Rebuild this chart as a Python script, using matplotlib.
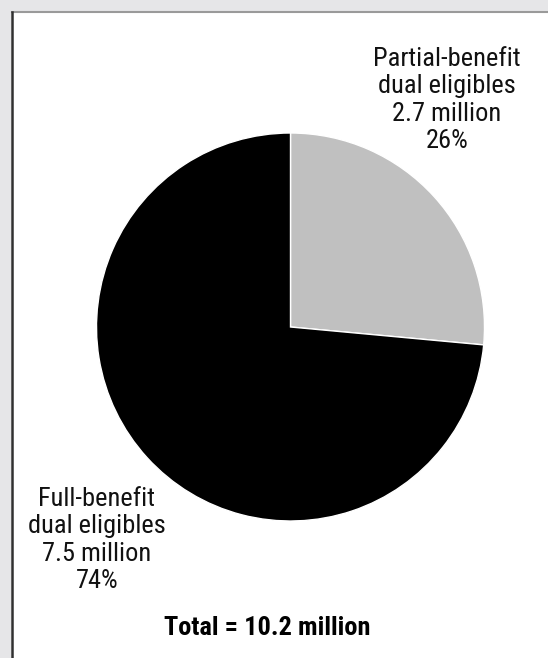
import matplotlib
matplotlib.use("Agg")
import matplotlib.pyplot as plt
from matplotlib.patches import Rectangle

plt.rcParams['font.family'] = ['Roboto Condensed', 'DejaVu Sans']

categories = ["Partial-benefit\ndual eligibles", "Full-benefit\ndual eligibles"]
values_million = [2.7, 7.5]
percents = [26, 74]
total_label = "Total = 10.2 million"
colors = ["#c0c0c0", "#000000"]

W, H = 548, 658
fig = plt.figure(figsize=(W / 100, H / 100), dpi=100)
fig.patch.set_facecolor("#e6e6e8")

# background panel axes
bg = fig.add_axes([0, 0, 1, 1], zorder=-5)
bg.set_xlim(0, W)
bg.set_ylim(H, 0)
bg.axis("off")
bg.add_patch(Rectangle((11, 11), W, H, facecolor="white", edgecolor="none"))
bg.plot([11.5, W], [11.5, 11.5], color="#9a9a9a", lw=1.5)
bg.plot([11.5, 11.5], [11.5, H], color="#303030", lw=1.8)

cx, cy, r = 290.5, 327, 194
ax = fig.add_axes([(cx - r) / W, (H - cy - r) / H, 2 * r / W, 2 * r / H], zorder=1)
ax.pie(values_million, colors=colors, startangle=90, counterclock=False, radius=1,
       wedgeprops=dict(edgecolor="white", linewidth=1.0))
ax.set_xlim(-1, 1)
ax.set_ylim(-1, 1)
ax.set_aspect("equal")
ax.axis("off")

labels = [f"{c}\n{v} million\n{p}%" for c, v, p in zip(categories, values_million, percents)]

fig.text(447 / W, 1 - 100 / H, labels[0], ha="center", va="center", fontsize=19,
         linespacing=1.18, color="#111111", zorder=3)
fig.text(97 / W, 1 - 540 / H, labels[1], ha="center", va="center", fontsize=19,
         linespacing=1.18, color="#111111", zorder=3)
fig.text(267 / W, 1 - 628 / H, total_label, ha="center", va="center", fontsize=19,
         fontweight="bold", color="#000000", zorder=3)

fig.savefig("out.png", dpi=100, facecolor=fig.get_facecolor())
